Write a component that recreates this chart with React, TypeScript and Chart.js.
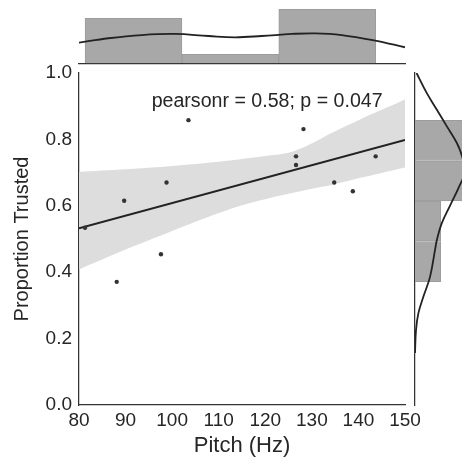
import React, { useEffect, useRef } from "react";
import { Chart, registerables } from "chart.js";

Chart.register(...registerables);

// ---- data ----
const pitchHz = [81.3, 88.1, 89.7, 97.6, 98.8, 103.5, 126.6, 126.6, 128.2, 134.8, 138.8, 143.7];
const proportionTrusted = [0.534, 0.371, 0.615, 0.454, 0.67, 0.858, 0.749, 0.723, 0.831, 0.67, 0.644, 0.749];

const xTickStep = 10;
const yTickStep = 0.2;

const regressionX = [80, 150];
const regressionY = [0.532, 0.798];

const bandX = [80, 90, 100, 110, 115, 120, 125, 128, 131, 134, 140, 145, 150];
const bandUpper = [0.702, 0.71, 0.72, 0.733, 0.741, 0.75, 0.76, 0.775, 0.795, 0.818, 0.858, 0.889, 0.92];
const bandLower = [0.408, 0.468, 0.524, 0.578, 0.602, 0.62, 0.636, 0.645, 0.654, 0.662, 0.683, 0.699, 0.715];

const pitchBinCenters = [91.7, 112.5, 133.3];
const pitchBinCounts = [5, 1, 6];
const pitchKdeX = [80, 86.3, 93.5, 100.6, 107.8, 113.5, 119.2, 125.7, 130.7, 136.4, 143.6, 150];
const pitchKdeY = [2.29, 2.78, 3.14, 3.26, 3.03, 2.89, 3.03, 3.26, 3.33, 3.14, 2.52, 1.78];

const trustBinCenters = [0.432, 0.554, 0.675, 0.797];
const trustBinCounts = [2, 2, 4, 4];
const trustKdeValue = [1.0, 0.94, 0.89, 0.84, 0.79, 0.75, 0.705, 0.655, 0.6, 0.547, 0.5, 0.467, 0.386, 0.326, 0.276, 0.226, 0.157];
const trustKdeDensity = [0.12, 0.91, 1.69, 2.47, 3.25, 3.66, 3.9, 3.4, 2.72, 2.08, 1.72, 1.56, 1.17, 0.65, 0.26, 0.08, 0.0];

const annotationText = "pearsonr = 0.58; p = 0.047";
const annotationAt = [95.6, 0.898];

// ---- styles ----
const FONT = "'Liberation Sans', Arial, sans-serif";
const INK = "#262626";
const SPINE = "#333333";
const BAR = "rgb(168,168,168)";
const BAR_EDGE = "rgb(156,156,156)";
const BAND = "rgb(221,221,221)";
const LINE = "#222222";

const pearsonPlugin = {
  id: "pearsonText",
  afterDatasetsDraw(chart: any) {
    const { ctx, scales } = chart;
    ctx.save();
    ctx.font = `19.6px ${FONT}`;
    ctx.fillStyle = INK;
    ctx.textAlign = "left";
    ctx.textBaseline = "alphabetic";
    ctx.fillText(
      annotationText,
      scales.x.getPixelForValue(annotationAt[0]),
      scales.y.getPixelForValue(annotationAt[1])
    );
    ctx.restore();
  },
};

export default function App() {
  const mainRef = useRef<HTMLCanvasElement>(null);
  const topRef = useRef<HTMLCanvasElement>(null);
  const rightRef = useRef<HTMLCanvasElement>(null);

  useEffect(() => {
    const charts: Chart[] = [];
    const common = {
      responsive: false,
      animation: false as const,
      devicePixelRatio: 1,
      events: [] as any[],
    };

    // ---- main joint scatter ----
    charts.push(
      new Chart(mainRef.current!, {
        type: "scatter",
        data: {
          datasets: [
            {
              type: "line",
              data: bandX.map((x, i) => ({ x, y: bandUpper[i] })),
              borderColor: "transparent",
              borderWidth: 0,
              pointRadius: 0,
              backgroundColor: BAND,
              fill: "+1",
              tension: 0.3,
              order: 3,
            } as any,
            {
              type: "line",
              data: bandX.map((x, i) => ({ x, y: bandLower[i] })),
              borderColor: "transparent",
              borderWidth: 0,
              pointRadius: 0,
              fill: false,
              tension: 0.3,
              order: 3,
            } as any,
            {
              type: "line",
              data: regressionX.map((x, i) => ({ x, y: regressionY[i] })),
              borderColor: LINE,
              borderWidth: 2,
              pointRadius: 0,
              fill: false,
              order: 2,
            } as any,
            {
              type: "scatter",
              data: pitchHz.map((x, i) => ({ x, y: proportionTrusted[i] })),
              pointRadius: 2.2,
              backgroundColor: "#333333",
              borderWidth: 0,
              order: 1,
            } as any,
          ],
        },
        options: {
          ...common,
          layout: { padding: { left: 0, top: 73, right: 57, bottom: 0 } },
          plugins: { legend: { display: false }, tooltip: { enabled: false } },
          scales: {
            x: {
              type: "linear",
              min: 80,
              max: 150,
              grid: { display: false, drawTicks: false },
              border: { display: true, color: SPINE, width: 1.25 },
              ticks: {
                stepSize: xTickStep,
                padding: 4,
                color: INK,
                font: { family: FONT, size: 19 },
                callback: (v: any) => String(v),
              },
              title: {
                display: true,
                text: "Pitch (Hz)",
                color: INK,
                font: { family: FONT, size: 22 },
                padding: { top: 0, bottom: 0 },
              },
              afterFit: (s: any) => {
                s.height = 54;
              },
            },
            y: {
              type: "linear",
              min: 0,
              max: 1,
              grid: { display: false, drawTicks: false },
              border: { display: true, color: SPINE, width: 1.25 },
              ticks: {
                stepSize: yTickStep,
                padding: 7,
                color: INK,
                font: { family: FONT, size: 19 },
                callback: (v: any) => Number(v).toFixed(1),
              },
              title: {
                display: true,
                text: "Proportion Trusted",
                color: INK,
                font: { family: FONT, size: 20 },
                padding: { top: 10.5, bottom: 0 },
              },
              afterFit: (s: any) => {
                s.width = 79;
              },
            },
          },
        } as any,
        plugins: [pearsonPlugin],
      })
    );

    // ---- top marginal ----
    charts.push(
      new Chart(topRef.current!, {
        type: "bar",
        data: {
          datasets: [
            {
              type: "line",
              data: pitchKdeX.map((x, i) => ({ x, y: pitchKdeY[i] })),
              borderColor: LINE,
              borderWidth: 1.8,
              pointRadius: 0,
              tension: 0.4,
              fill: false,
              order: 0,
            } as any,
            {
              type: "bar",
              data: pitchBinCenters.map((x, i) => ({ x, y: pitchBinCounts[i] })),
              backgroundColor: BAR,
              borderColor: BAR_EDGE,
              borderWidth: 1,
              barPercentage: 1,
              categoryPercentage: 1,
              order: 1,
            } as any,
          ],
        },
        options: {
          ...common,
          layout: { padding: { left: 79, right: 57, top: 0, bottom: 6.7 } },
          plugins: { legend: { display: false }, tooltip: { enabled: false } },
          scales: {
            x: {
              type: "linear",
              min: 80,
              max: 150,
              offset: false,
              grid: { display: false, drawTicks: false, offset: false },
              ticks: { display: false },
              border: { display: true, color: SPINE, width: 1.25 },
              afterBuildTicks: (s: any) => {
                s.ticks = [];
              },
            },
            y: { type: "linear", min: 0, max: 7.03, display: false },
          },
        } as any,
      })
    );

    // ---- right marginal ----
    charts.push(
      new Chart(rightRef.current!, {
        type: "bar",
        data: {
          datasets: [
            {
              type: "line",
              indexAxis: "y",
              data: trustKdeValue.map((y, i) => ({ x: trustKdeDensity[i], y })),
              borderColor: LINE,
              borderWidth: 1.8,
              pointRadius: 0,
              tension: 0.4,
              fill: false,
              order: 0,
            } as any,
            {
              type: "bar",
              data: trustBinCenters.map((y, i) => ({ x: trustBinCounts[i], y })),
              backgroundColor: BAR,
              borderColor: BAR_EDGE,
              borderWidth: 1,
              barPercentage: 1,
              categoryPercentage: 1,
              order: 1,
            } as any,
          ],
        },
        options: {
          ...common,
          indexAxis: "y",
          layout: { padding: { left: 15, right: 0, top: 73, bottom: 54 } },
          plugins: { legend: { display: false }, tooltip: { enabled: false } },
          scales: {
            x: { type: "linear", min: 0, max: 3.66, display: false },
            y: {
              type: "linear",
              min: 0,
              max: 1,
              offset: false,
              grid: { display: false, drawTicks: false, offset: false },
              ticks: { display: false },
              border: { display: true, color: SPINE, width: 1.25 },
              afterBuildTicks: (s: any) => {
                s.ticks = [];
              },
            },
          },
        } as any,
      })
    );

    return () => charts.forEach((c) => c.destroy());
  }, []);

  return (
    <div style={{ position: "absolute", left: 0, top: 0, width: 462, height: 459, background: "#fff" }}>
      <canvas ref={mainRef} width={462} height={459} style={{ position: "absolute", left: 0, top: 0 }} />
      <canvas ref={topRef} width={462} height={70} style={{ position: "absolute", left: 0, top: 0 }} />
      <canvas ref={rightRef} width={62} height={459} style={{ position: "absolute", left: 400, top: 0 }} />
    </div>
  );
}
